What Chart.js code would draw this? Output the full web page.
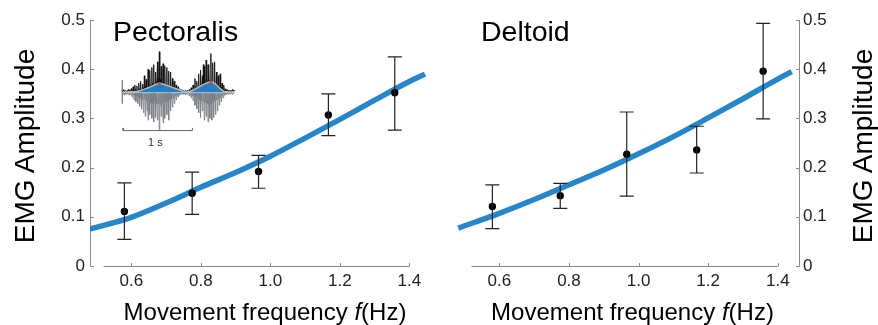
<!DOCTYPE html>
<html><head><meta charset="utf-8">
<script src="https://cdn.jsdelivr.net/npm/chart.js@4/dist/chart.umd.min.js"></script>
<style>
html,body{margin:0;padding:0;background:#fff;}
#wrap{position:relative;width:878px;height:325px;overflow:hidden;font-family:"Liberation Sans",Arial,Helvetica,sans-serif;color:#000;background:#fff;}
canvas{position:absolute;}
.t{position:absolute;white-space:nowrap;line-height:1;}
</style></head><body>
<div id="wrap">
<canvas id="cL" width="440" height="325" style="left:0;top:0"></canvas>
<canvas id="cR" width="438" height="325" style="left:440px;top:0"></canvas>
<canvas id="cI" width="126" height="106" style="left:116px;top:44px"></canvas>
<div class="t" style="left:113px;top:16.6px;font-size:28.5px">Pectoralis</div>
<div class="t" style="left:481px;top:16.6px;font-size:28.5px">Deltoid</div>
<div class="t" style="left:65px;top:300.2px;width:400px;text-align:center;font-size:24px">Movement frequency <i>f</i>(Hz)</div>
<div class="t" style="left:432.5px;top:300.2px;width:400px;text-align:center;font-size:24px">Movement frequency <i>f</i>(Hz)</div>
<div class="t" style="left:-94.6px;top:132px;width:240px;height:28px;text-align:center;font-size:28px;transform:rotate(-90deg)">EMG Amplitude</div>
<div class="t" style="left:743.4px;top:132px;width:240px;height:28px;text-align:center;font-size:28px;transform:rotate(-90deg)">EMG Amplitude</div>
<div class="t" style="left:135.3px;top:136.7px;width:40px;text-align:center;font-size:11px;color:#333">1 s</div>
</div>
<script>
// ---- data ----
const frequencies = [0.58, 0.775, 0.966, 1.167, 1.358];
const pectoralisMean = [0.111, 0.148, 0.192, 0.307, 0.352];
const pectoralisLow  = [0.054, 0.105, 0.158, 0.265, 0.276];
const pectoralisHigh = [0.169, 0.191, 0.225, 0.350, 0.425];
const deltoidMean = [0.121, 0.143, 0.227, 0.236, 0.396];
const deltoidLow  = [0.076, 0.117, 0.142, 0.189, 0.299];
const deltoidHigh = [0.165, 0.168, 0.313, 0.284, 0.493];

const fitFreqPectoralis = [0.48, 0.6, 0.7, 0.8, 0.9, 1.0, 1.1, 1.2, 1.3, 1.4, 1.445];
const fitPectoralis     = [0.075, 0.099, 0.128, 0.16, 0.19, 0.223, 0.26, 0.298, 0.337, 0.375, 0.39];
const fitFreqDeltoid = [0.482, 0.6, 0.7, 0.8, 0.9, 1.0, 1.1, 1.2, 1.3, 1.4, 1.44];
const fitDeltoid     = [0.077, 0.107, 0.135, 0.165, 0.195, 0.228, 0.263, 0.301, 0.34, 0.38, 0.395];

const xTickValues = [0.6, 0.8, 1.0, 1.2, 1.4];
const xTickLabels = ['0.6', '0.8', '1.0', '1.2', '1.4'];
const yTickValues = [0, 0.1, 0.2, 0.3, 0.4, 0.5];
const yTickLabels = ['0', '0.1', '0.2', '0.3', '0.4', '0.5'];

// inset EMG trace (sample index = time, amplitude in arbitrary units)
const emgUpper = [2,1,3,1,2,1,2,3,1,2, 4,1,6,2,8,3,7,2,10,4, 12,3,9,5,18,6,14,4,25,7,
  24,8,27,10,30,9,22,12,33,15, 44,14,28,11,31,10,29,9,27,8, 23,7,22,6,15,5,12,4,8,3,
  6,2,4,2,3,1,2,1,2,1, 2,1,3,2,5,2,8,3,15,5, 12,6,20,7,24,9,18,30,28,11,
  35,12,30,26,13,42,12,32,10,33, 9,22,8,18,6,20,5,10,4,8, 3,4,2,3,1,2,2,1,3,1,2];
const emgLower = [-2,-1,-2,-3,-1,-2,-1,-2,-3,-1, -3,-5,-2,-8,-3,-10,-4,-12,-5,-15,
  -6,-18,-8,-22,-7,-26,-9,-20,-30,-10, -24,-11,-28,-12,-32,-10,-27,-13,-30,-12,
  -41,-14,-26,-11,-33,-12,-28,-10,-24,-9, -30,-8,-20,-7,-16,-6,-12,-4,-8,-3,
  -5,-2,-3,-1,-2,-1,-2,-1,-3,-1, -2,-1,-4,-2,-6,-3,-9,-4,-14,-5,
  -18,-6,-22,-8,-27,-9,-20,-10,-30,-11, -26,-12,-32,-14,-28,-12,-30,-10,-27,-9,
  -24,-8,-20,-7,-14,-5,-10,-3,-6,-2, -3,-2,-2,-1,-2,-1,-2,-1,-2,-1,-1];
const envelopeTime = [0, 12, 20, 28, 35, 40, 47, 55, 62, 66, 70, 74, 79, 86, 95, 101, 105, 109, 112, 120];
const envelopeAmp  = [0, 0.3, 2, 5, 8, 9.8, 8, 5, 2.5, 0.8, 0.5, 1.5, 4, 8, 11.5, 8, 4, 1, 0, 0];
const envelopePeakTime = [40, 95];
const envelopePeakAmp  = [9.8, 11.5];
const scaleBarTime = [1.3, 1.3, 75.3, 75.3];
const scaleBarAmp  = [-38.5, -41.3, -41.3, -38.5];
const startMarkTime = [0.5, 0.5];
const startMarkAmp  = [13, -12];

// ---- drawing ----
const FONT = '"Liberation Sans", Arial, Helvetica, sans-serif';
const X_AXIS_START = 0.52;
const AXIS_COLOR = '#8a8a8a';

const axesPlugin = {
  id: 'detachedAxes',
  beforeDatasetsDraw(chart) {
    const {ctx, scales: {x, y}} = chart;
    const side = chart.options.scales.y.position;
    ctx.save();
    ctx.strokeStyle = AXIS_COLOR;
    ctx.lineWidth = 1;
    const ax = Math.round(x.getPixelForValue(side === 'left' ? x.min : x.max)) + 0.5;
    const y0 = Math.round(y.getPixelForValue(0)) + 0.5;
    const y1 = y.getPixelForValue(0.5);
    ctx.beginPath();
    ctx.moveTo(ax, y0); ctx.lineTo(ax, y1);
    const dir = side === 'left' ? 1 : -1;
    yTickValues.forEach(v => {
      const py = Math.round(y.getPixelForValue(v)) + 0.5;
      ctx.moveTo(ax, py); ctx.lineTo(ax + dir * 3.5, py);
    });
    ctx.moveTo(x.getPixelForValue(X_AXIS_START), y0);
    ctx.lineTo(x.getPixelForValue(1.4), y0);
    xTickValues.forEach(v => {
      const px = Math.round(x.getPixelForValue(v)) + 0.5;
      ctx.moveTo(px, y0); ctx.lineTo(px, y0 - 3.5);
    });
    ctx.stroke();
    ctx.restore();
  }
};

const errorBarPlugin = {
  id: 'errbars',
  afterDatasetsDraw(chart, args, opts) {
    const {ctx, scales: {x, y}} = chart;
    ctx.save();
    ctx.strokeStyle = '#222';
    ctx.lineWidth = 1.2;
    ctx.beginPath();
    frequencies.forEach((f, i) => {
      const px = x.getPixelForValue(f);
      const pt = y.getPixelForValue(opts.high[i]);
      const pb = y.getPixelForValue(opts.low[i]);
      ctx.moveTo(px, pt); ctx.lineTo(px, pb);
      ctx.moveTo(px - 7, pt); ctx.lineTo(px + 7, pt);
      ctx.moveTo(px - 7, pb); ctx.lineTo(px + 7, pb);
    });
    ctx.stroke();
    ctx.restore();
  }
};

function makePanel(id, side, fitX, fitY, mean, low, high, xmin, xmax) {
  return new Chart(document.getElementById(id), {
    type: 'line',
    data: {
      datasets: [
        {
          data: frequencies.map((f, i) => ({x: f, y: mean[i]})),
          showLine: false, pointRadius: 3.7, pointBackgroundColor: '#000',
          pointBorderWidth: 0, order: 0
        },
        {
          data: fitX.map((f, i) => ({x: f, y: fitY[i]})),
          borderColor: '#2686c9', borderWidth: 5.5, pointRadius: 0,
          cubicInterpolationMode: 'monotone', borderCapStyle: 'butt', fill: false, order: 1
        }
      ]
    },
    options: {
      responsive: false, animation: false, events: [],
      layout: {padding: {top: 20, bottom: 0, left: side === 'left' ? 0 : 14.1, right: side === 'left' ? 10 : 0}},
      plugins: {
        legend: {display: false}, tooltip: {enabled: false},
        errbars: {low, high}
      },
      scales: {
        x: {
          type: 'linear', min: xmin, max: xmax,
          afterBuildTicks: s => { s.ticks = xTickValues.map(v => ({value: v})); },
          ticks: {callback: (v, i) => xTickLabels[i], padding: 5, color: '#222',
                  font: {size: 17, family: FONT}, maxRotation: 0, autoSkip: false},
          grid: {display: false, drawTicks: false}, border: {display: false},
          afterFit: s => { s.height = 59; }
        },
        y: {
          type: 'linear', position: side, min: 0, max: 0.5,
          afterBuildTicks: s => { s.ticks = yTickValues.map(v => ({value: v})); },
          ticks: {callback: (v, i) => yTickLabels[i], padding: side === 'left' ? 5 : 4, color: '#222',
                  font: {size: 17, family: FONT}, autoSkip: false},
          grid: {display: false, drawTicks: false}, border: {display: false},
          afterFit: s => { s.width = side === 'left' ? 90 : 79; }
        }
      }
    },
    plugins: [axesPlugin, errorBarPlugin]
  });
}

makePanel('cL', 'left', fitFreqPectoralis, fitPectoralis, pectoralisMean, pectoralisLow, pectoralisHigh, 0.481, 1.4594);
makePanel('cR', 'right', fitFreqDeltoid, fitDeltoid, deltoidMean, deltoidLow, deltoidHigh, 0.47, 1.461);

// inset: each sample drawn as a thin spike returning to the baseline band
const spikes = (arr, rest) => arr.flatMap((v, i) => [{x: i, y: v}, {x: i + 0.5, y: rest}]);
new Chart(document.getElementById('cI'), {
  type: 'line',
  data: {
    datasets: [
      {data: envelopePeakTime.map((t, i) => ({x: t, y: envelopePeakAmp[i]})), showLine: false,
       pointRadius: 1.3, pointBackgroundColor: '#e8302a', pointBorderWidth: 0, order: 0},
      {data: envelopeTime.map((t, i) => ({x: t, y: envelopeAmp[i]})), borderColor: '#b8b8b8', borderWidth: 1.5,
       backgroundColor: '#2a7cc0', fill: 'origin', pointRadius: 0, tension: 0.35, order: 1},
      {data: spikes(emgUpper, 1.5), borderColor: '#111', borderWidth: 0.9, pointRadius: 0, order: 2},
      {data: spikes(emgLower, -1), borderColor: '#7c8288', borderWidth: 0.9, pointRadius: 0, order: 3},
      {data: scaleBarTime.map((t, i) => ({x: t, y: scaleBarAmp[i]})), borderColor: '#666', borderWidth: 1, pointRadius: 0, order: 4},
      {data: startMarkTime.map((t, i) => ({x: t, y: startMarkAmp[i]})), borderColor: '#888', borderWidth: 1, pointRadius: 0, order: 5}
    ]
  },
  options: {
    responsive: false, animation: false, events: [],
    layout: {padding: 0},
    plugins: {legend: {display: false}, tooltip: {enabled: false}},
    scales: {
      x: {type: 'linear', min: -2, max: 124, display: false},
      y: {type: 'linear', min: -58, max: 48, display: false}
    }
  }
});
</script>
</body></html>
